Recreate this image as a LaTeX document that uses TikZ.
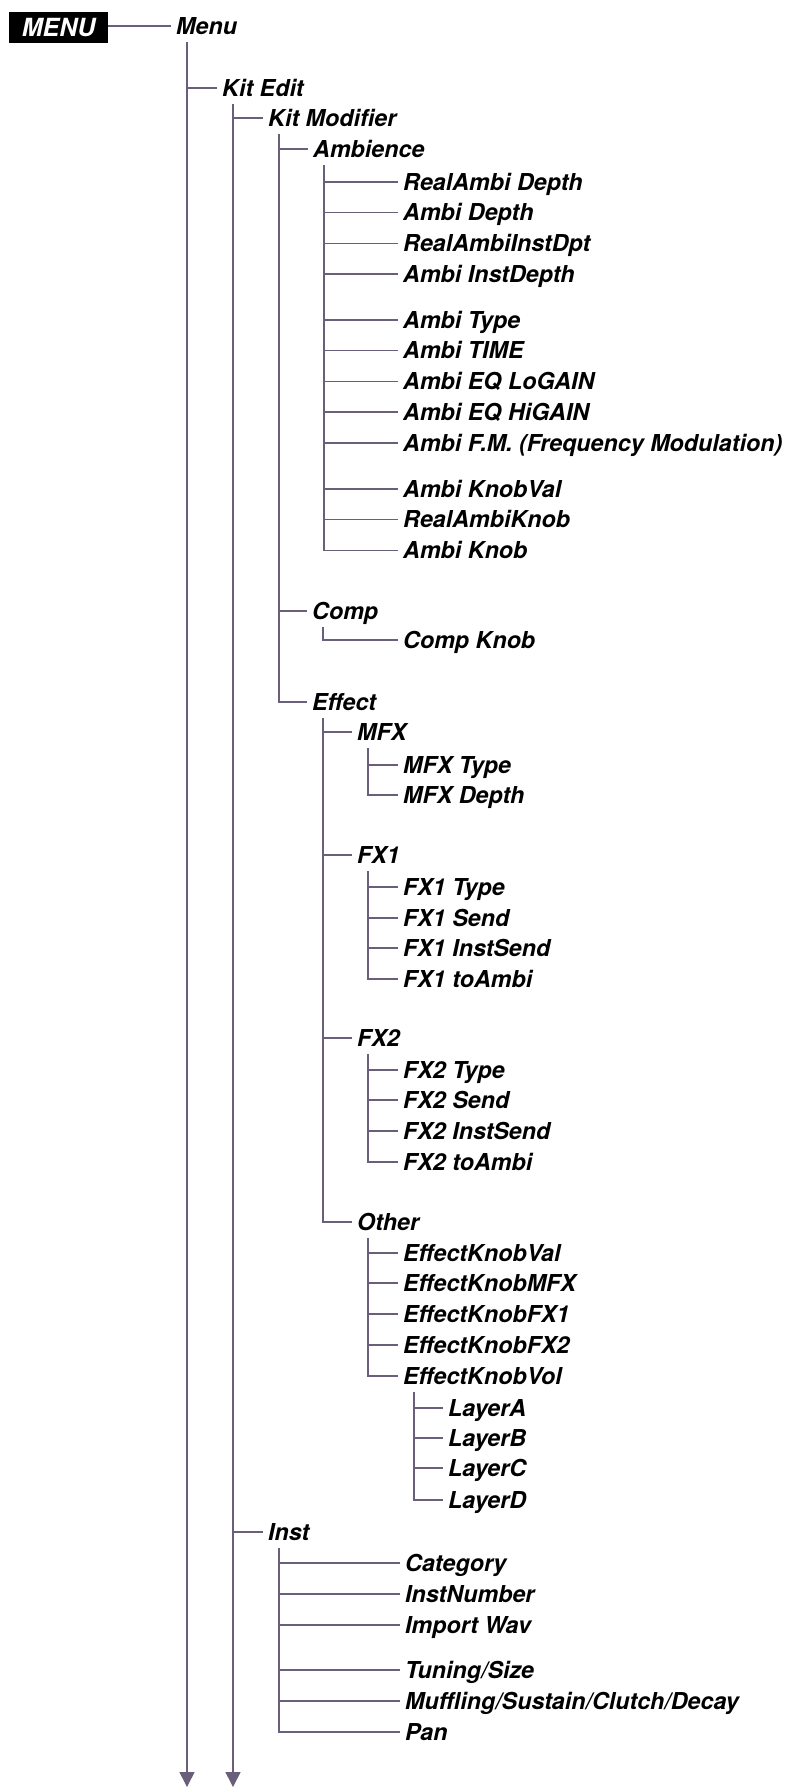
\documentclass[tikz,border=0pt]{standalone}
\usepackage{fontspec}
\setmainfont{TeX Gyre Heros}
\usetikzlibrary{arrows.meta}
\definecolor{linec}{RGB}{105,95,122}
\newcommand\mkstem[1]{\coordinate (#1-s) at ([xshift=16pt,yshift=-8pt]#1.base west);}
\begin{document}
\begin{tikzpicture}[x=1pt,y=-1pt,
  lbl/.style={anchor=west,font=\fontsize{23.3}{23.3}\selectfont\bfseries\itshape,inner xsep=5pt,inner ysep=0pt,text height=16.5pt,text depth=0pt},
  conn/.style={draw=linec,line width=1.5pt},
  downarrow/.style={conn,-{Triangle[width=15pt,length=15pt]},fill=linec}]
\useasboundingbox (0,0) rectangle (786,1787);

% MENU key
\node[fill=black,text=white,font=\fontsize{25}{25}\selectfont\bfseries\itshape,minimum width=99pt,minimum height=31pt,inner sep=0pt,anchor=north west] (menubox) at (9,12) {MENU};

% level 0
\node[lbl] (menu) at (171,26) {Menu};
\draw[conn] (menubox.east |- menu.west) -- (menu.west);
\mkstem{menu}

\node[lbl] (kitedit) at (217,88) {Kit Edit};
\mkstem{kitedit}
\node[lbl] (kitmod) at (263,118) {Kit Modifier};
\mkstem{kitmod}

% Ambience
\node[lbl] (amb) at (308,149) {Ambience};
\mkstem{amb}
\node[lbl] (a1) at (398,182) {RealAmbi Depth};
\node[lbl] (a2) at (398,212.7) {Ambi Depth};
\node[lbl] (a3) at (398,243.4) {RealAmbiInstDpt};
\node[lbl] (a4) at (398,274) {Ambi InstDepth};
\node[lbl] (a5) at (398,320) {Ambi Type};
\node[lbl] (a6) at (398,350.7) {Ambi TIME};
\node[lbl] (a7) at (398,381.4) {Ambi EQ LoGAIN};
\node[lbl] (a8) at (398,412) {Ambi EQ HiGAIN};
\node[lbl] (a9) at (398,443) {Ambi F.M. (Frequency Modulation)};
\node[lbl] (a10) at (398,489) {Ambi KnobVal};
\node[lbl] (a11) at (398,519.7) {RealAmbiKnob};
\node[lbl] (a12) at (398,550.4) {Ambi Knob};

% Comp
\node[lbl] (comp) at (307,611) {Comp};
\mkstem{comp}
\node[lbl] (compknob) at (398,640) {Comp Knob};

% Effect
\node[lbl] (effect) at (307,702) {Effect};
\mkstem{effect}
\node[lbl] (mfx) at (352,732) {MFX};
\mkstem{mfx}
\node[lbl] (mfxtype) at (398,765) {MFX Type};
\node[lbl] (mfxdepth) at (398,795) {MFX Depth};

\node[lbl] (fx1) at (352,855) {FX1};
\mkstem{fx1}
\node[lbl] (fx1a) at (398,887) {FX1 Type};
\node[lbl] (fx1b) at (398,918) {FX1 Send};
\node[lbl] (fx1c) at (398,948) {FX1 InstSend};
\node[lbl] (fx1d) at (398,979) {FX1 toAmbi};

\node[lbl] (fx2) at (352,1038) {FX2};
\mkstem{fx2}
\node[lbl] (fx2a) at (398,1070) {FX2 Type};
\node[lbl] (fx2b) at (398,1100) {FX2 Send};
\node[lbl] (fx2c) at (398,1131) {FX2 InstSend};
\node[lbl] (fx2d) at (398,1162) {FX2 toAmbi};

\node[lbl] (other) at (352,1222) {Other};
\mkstem{other}
\node[lbl] (ek1) at (398,1253) {EffectKnobVal};
\node[lbl] (ek2) at (398,1283) {EffectKnobMFX};
\node[lbl] (ek3) at (398,1314) {EffectKnobFX1};
\node[lbl] (ek4) at (398,1345) {EffectKnobFX2};
\node[lbl] (ek5) at (398,1376) {EffectKnobVol};
\mkstem{ek5}
\node[lbl] (la) at (443,1408) {LayerA};
\node[lbl] (lb) at (443,1438) {LayerB};
\node[lbl] (lc) at (443,1468) {LayerC};
\node[lbl] (ld) at (443,1500) {LayerD};

% Inst
\node[lbl] (inst) at (263,1532) {Inst};
\mkstem{inst}
\node[lbl] (i1) at (400,1563) {Category};
\node[lbl] (i2) at (400,1594) {InstNumber};
\node[lbl] (i3) at (400,1625) {Import Wav};
\node[lbl] (i4) at (400,1670) {Tuning/Size};
\node[lbl] (i5) at (400,1701) {Muffling/Sustain/Clutch/Decay};
\node[lbl] (i6) at (400,1732) {Pan};

% connectors
\coordinate (menu-end) at (menu-s |- 0,1787);
\coordinate (kitedit-end) at (kitedit-s |- 0,1787);
\draw[downarrow] (menu-s) -- (menu-end);
\draw[downarrow] (kitedit-s) -- (kitedit-end);
\draw[conn] (menu-s) |- (kitedit.west);
\foreach \c in {kitmod,inst} \draw[conn] (kitedit-s) |- (\c.west);
\foreach \c in {amb,comp,effect} \draw[conn] (kitmod-s) |- (\c.west);
\foreach \c in {a1,a2,a3,a4,a5,a6,a7,a8,a9,a10,a11,a12} \draw[conn] (amb-s) |- (\c.west);
\draw[conn] (comp-s) |- (compknob.west);
\foreach \c in {mfx,fx1,fx2,other} \draw[conn] (effect-s) |- (\c.west);
\foreach \c in {mfxtype,mfxdepth} \draw[conn] (mfx-s) |- (\c.west);
\foreach \c in {fx1a,fx1b,fx1c,fx1d} \draw[conn] (fx1-s) |- (\c.west);
\foreach \c in {fx2a,fx2b,fx2c,fx2d} \draw[conn] (fx2-s) |- (\c.west);
\foreach \c in {ek1,ek2,ek3,ek4,ek5} \draw[conn] (other-s) |- (\c.west);
\foreach \c in {la,lb,lc,ld} \draw[conn] (ek5-s) |- (\c.west);
\foreach \c in {i1,i2,i3,i4,i5,i6} \draw[conn] (inst-s) |- (\c.west);
\end{tikzpicture}
\end{document}
